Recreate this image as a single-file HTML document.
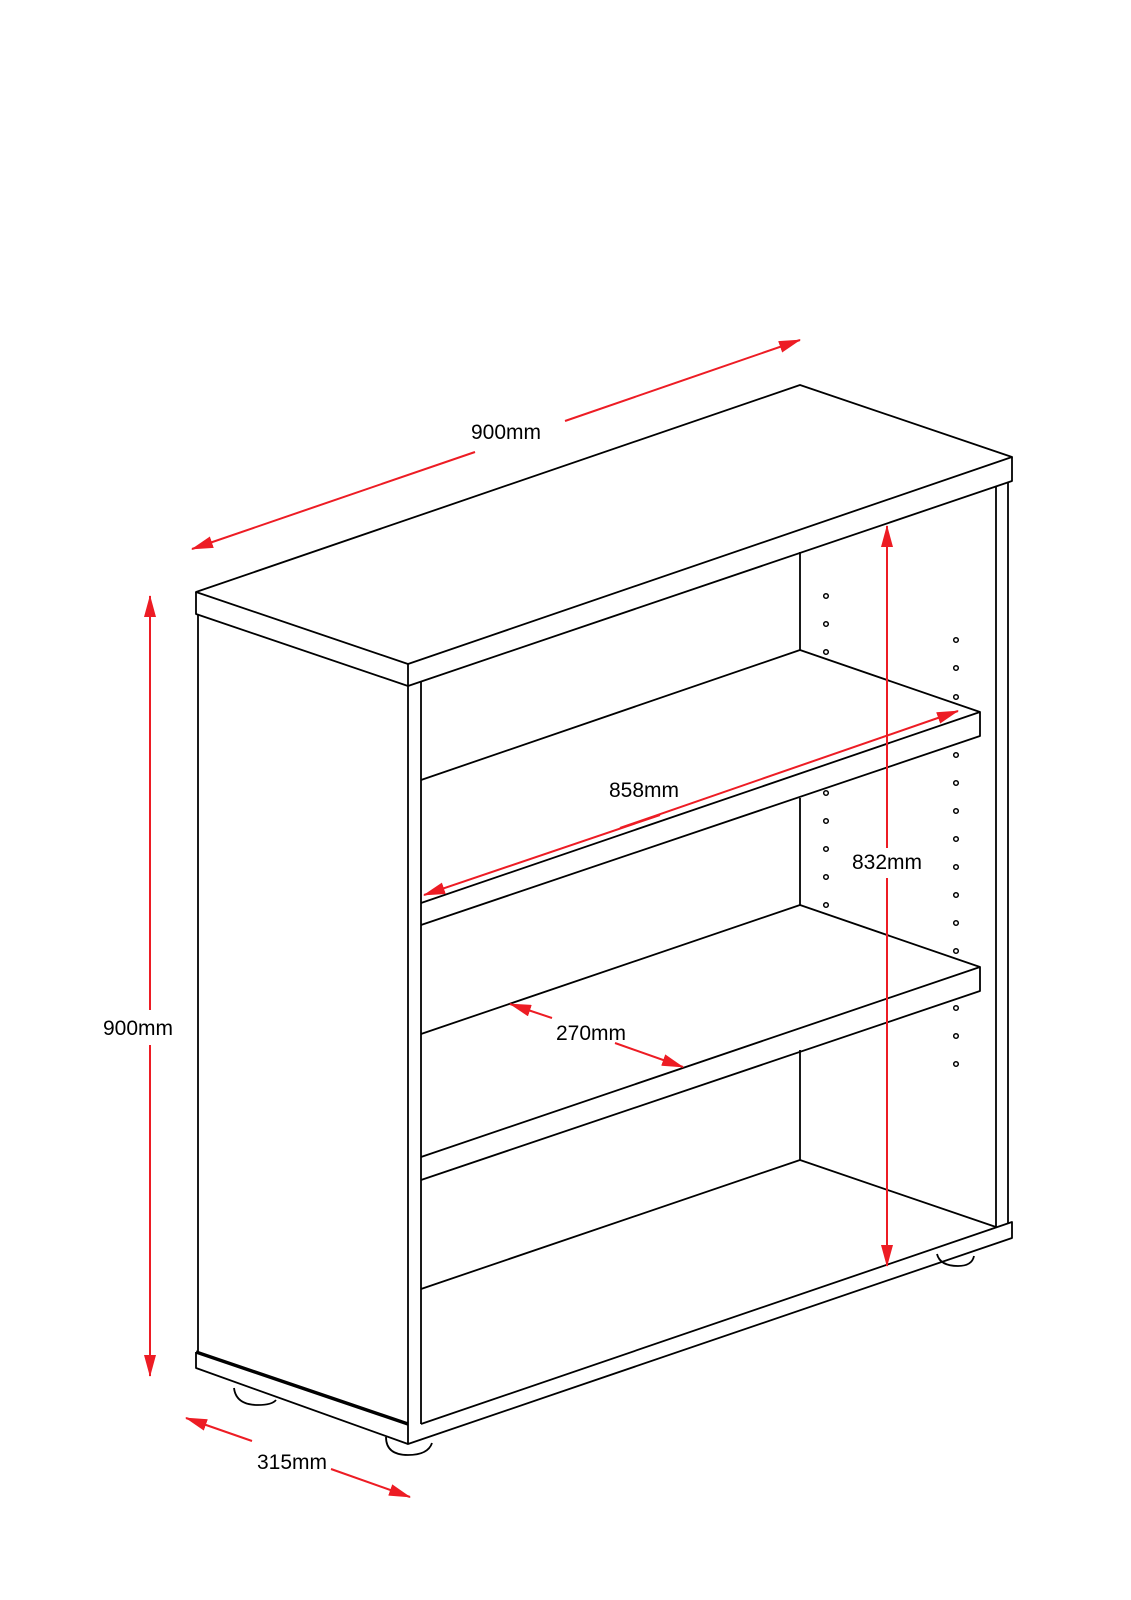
<!DOCTYPE html>
<html><head><meta charset="utf-8"><style>
html,body{margin:0;padding:0;background:#fff;}
svg{display:block}
text{font-family:"Liberation Sans",Arial,sans-serif;font-size:21px;fill:#000}
</style></head><body>
<svg width="1131" height="1600" viewBox="0 0 1131 1600" xmlns="http://www.w3.org/2000/svg">
<defs>
<marker id="a" markerWidth="22" markerHeight="12" refX="21" refY="6" orient="auto" markerUnits="userSpaceOnUse" viewBox="0 0 22 12">
<path d="M0,0 L22,6 L0,12 Z" fill="#ed1c24"/></marker>
</defs>
<g fill="none" stroke="#000" stroke-width="1.8" stroke-linejoin="round">
<!-- feet -->
<path d="M234,1388 Q236,1405 258,1405 Q272,1405 276,1400"/>
<path d="M386,1437 Q386,1455 408,1455 Q428,1455 432,1443"/>
<path d="M937,1254 Q940,1266 958,1266 Q972,1266 974,1256"/>
<!-- top -->
<path d="M196,592 L800,385 L1012,457 L408,664 Z"/>
<path d="M196,592 L196,614 L408,686 L1012,481 L1012,457"/>
<line x1="408" y1="664" x2="408" y2="686"/>
<!-- left side -->
<line x1="198" y1="614" x2="198" y2="1352"/>
<line x1="408" y1="686" x2="408" y2="1428"/>
<line x1="421" y1="682" x2="421" y2="1424"/>
<!-- right side -->
<line x1="996" y1="486" x2="996" y2="1228"/>
<line x1="1008" y1="482" x2="1008" y2="1224"/>
<!-- back verticals -->
<line x1="800" y1="552" x2="800" y2="650"/>
<line x1="800" y1="798" x2="800" y2="905"/>
<line x1="800" y1="1050" x2="800" y2="1160"/>
<!-- shelf1 -->
<path d="M421,780 L800,650 L980,712"/>
<path d="M421,903 L980,712 L980,736 L421,925"/>
<!-- shelf2 -->
<path d="M421,1034 L800,905 L980,967"/>
<path d="M421,1157 L980,967 L980,991 L421,1180"/>
<!-- bottom -->
<path d="M421,1289 L800,1160 L996,1227"/>
<path d="M421,1424 L1012,1222 L1012,1238 L408,1444 L408,1428"/>
<path d="M196,1352 L196,1368 L408,1444"/>
<path d="M196,1352 L408,1424" stroke-width="3.5"/>
</g>
<!-- holes -->
<g fill="none" stroke="#000" stroke-width="1.5">
<circle cx="826" cy="596" r="2.3"/><circle cx="826" cy="624" r="2.3"/><circle cx="826" cy="652" r="2.3"/>
<circle cx="826" cy="793" r="2.3"/><circle cx="826" cy="821" r="2.3"/><circle cx="826" cy="849" r="2.3"/><circle cx="826" cy="877" r="2.3"/><circle cx="826" cy="905" r="2.3"/>
<circle cx="956" cy="640" r="2.3"/><circle cx="956" cy="668" r="2.3"/><circle cx="956" cy="697" r="2.3"/>
<circle cx="956" cy="755" r="2.3"/><circle cx="956" cy="783" r="2.3"/><circle cx="956" cy="811" r="2.3"/><circle cx="956" cy="839" r="2.3"/><circle cx="956" cy="867" r="2.3"/><circle cx="956" cy="895" r="2.3"/><circle cx="956" cy="923" r="2.3"/><circle cx="956" cy="951" r="2.3"/>
<circle cx="956" cy="1008" r="2.3"/><circle cx="956" cy="1036" r="2.3"/><circle cx="956" cy="1064" r="2.3"/>
</g>
<!-- dimension lines -->
<g stroke="#ed1c24" stroke-width="2" fill="none">
<line x1="475" y1="452" x2="192" y2="549" marker-end="url(#a)"/>
<line x1="565" y1="421" x2="800" y2="340" marker-end="url(#a)"/>
<line x1="150" y1="1010" x2="150" y2="596" marker-end="url(#a)"/>
<line x1="150" y1="1045" x2="150" y2="1376" marker-end="url(#a)"/>
<line x1="660" y1="815" x2="424" y2="895" marker-end="url(#a)"/>
<line x1="620" y1="828" x2="958" y2="711" marker-end="url(#a)"/>
<line x1="887" y1="850" x2="887" y2="526" marker-end="url(#a)"/>
<line x1="887" y1="875" x2="887" y2="1266" marker-end="url(#a)"/>
<line x1="552" y1="1018" x2="510" y2="1004" marker-end="url(#a)"/>
<line x1="615" y1="1043" x2="683" y2="1067" marker-end="url(#a)"/>
<line x1="252" y1="1441" x2="186" y2="1418" marker-end="url(#a)"/>
<line x1="331" y1="1469" x2="410" y2="1497" marker-end="url(#a)"/>
</g>
<rect x="852" y="848" width="80" height="30" fill="#fff"/>
<text x="471" y="439">900mm</text>
<text x="103" y="1035">900mm</text>
<text x="609" y="797">858mm</text>
<text x="852" y="869">832mm</text>
<text x="556" y="1040">270mm</text>
<text x="257" y="1469">315mm</text>
</svg>
</body></html>
